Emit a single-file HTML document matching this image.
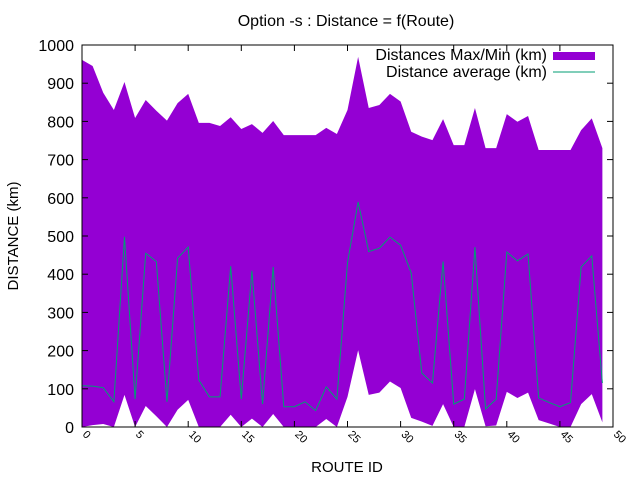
<!DOCTYPE html>
<html><head><meta charset="utf-8"><style>
body{margin:0;background:#fff;}
svg{display:block;font-family:"Liberation Sans",sans-serif;}
</style></head><body>
<svg id="chart" width="640" height="480" viewBox="0 0 640 480" xmlns="http://www.w3.org/2000/svg">
<text x="346" y="26" font-size="16" text-anchor="middle">Option -s : Distance = f(Route)</text>
<g id="plot"></g>
<g id="axes"></g>
<text x="347" y="472" font-size="15" text-anchor="middle">ROUTE ID</text>
<text transform="translate(18,236) rotate(-90)" font-size="15" text-anchor="middle">DISTANCE (km)</text>
<g>
<text x="547" y="60" font-size="16" text-anchor="end">Distances Max/Min (km)</text>
<rect x="553" y="52" width="42" height="8" fill="#9400d3"/>
<text x="547" y="77" font-size="16" text-anchor="end">Distance average (km)</text>
<line x1="553" y1="72" x2="595" y2="72" stroke="#009e73" stroke-width="1"/>
</g>
</svg>
<script>
const routeIds = Array.from({length:50},(_,i)=>i);
const maxValues = [961,945,875,830,903,809,856,828,802,848,872,796,796,788,811,780,793,770,801,764,764,764,764,783,767,830,969,835,843,872,852,773,760,751,806,738,738,835,730,730,819,799,814,725,725,725,725,777,808,730];
const minValues = [0,5,8,0,84,0,55,28,0,45,71,0,0,0,32,0,22,0,34,0,0,0,0,21,0,79,201,84,90,119,102,24,14,3,60,0,0,99,2,4,92,76,90,18,9,0,0,60,86,12];
const avgValues = [108,107,103,66,498,73,455,433,66,442,471,123,79,79,421,73,409,60,419,53,53,66,43,105,73,430,589,459,468,497,476,403,141,115,433,60,73,471,47,73,458,435,453,76,64,53,64,419,448,115];
const xTicks = [0,5,10,15,20,25,30,35,40,45,50];
const yTicks = [0,100,200,300,400,500,600,700,800,900,1000];

const L=82,R=613,T=45,B=427;
const xs=v=>L+(v-0)/(50-0)*(R-L);
const ys=v=>B-(v/1000)*(B-T);
const NS="http://www.w3.org/2000/svg";
const plot=document.getElementById('plot'), axes=document.getElementById('axes');
function mk(tag,attrs,parent){const e=document.createElementNS(NS,tag);for(const k in attrs)e.setAttribute(k,attrs[k]);parent.appendChild(e);return e;}

let pts=routeIds.map((r,i)=>xs(r)+','+ys(maxValues[i]));
for(let i=routeIds.length-1;i>=0;i--)pts.push(xs(routeIds[i])+','+ys(minValues[i]));
const band=mk('polygon',{points:pts.join(' '),fill:'#9400d3'},plot);



const avg=mk('polyline',{points:routeIds.map((r,i)=>xs(r)+','+ys(avgValues[i])).join(' '),fill:'none',stroke:'#009e73','stroke-width':1},plot);



const frame=mk('rect',{x:L,y:T,width:R-L,height:B-T,fill:'none',stroke:'#000','stroke-width':1},axes);



yTicks.forEach(v=>{
  const y=ys(v);
  mk('line',{x1:L,y1:y,x2:L+6,y2:y,stroke:'#000'},axes);
  mk('line',{x1:R,y1:y,x2:R-6,y2:y,stroke:'#000'},axes);
  const t=mk('text',{x:L-8,y:y+6,'font-size':16,'text-anchor':'end'},axes);
  t.textContent=v;
  
  
});
xTicks.forEach(v=>{
  const x=xs(v);
  mk('line',{x1:x,y1:B,x2:x,y2:B-6,stroke:'#000'},axes);
  mk('line',{x1:x,y1:T,x2:x,y2:T+6,stroke:'#000'},axes);
  const t=mk('text',{transform:`translate(${x},${B+8}) rotate(45)`,'font-size':11,'text-anchor':'start'},axes);
  t.textContent=v;
  
  
});
</script>
</body></html>
